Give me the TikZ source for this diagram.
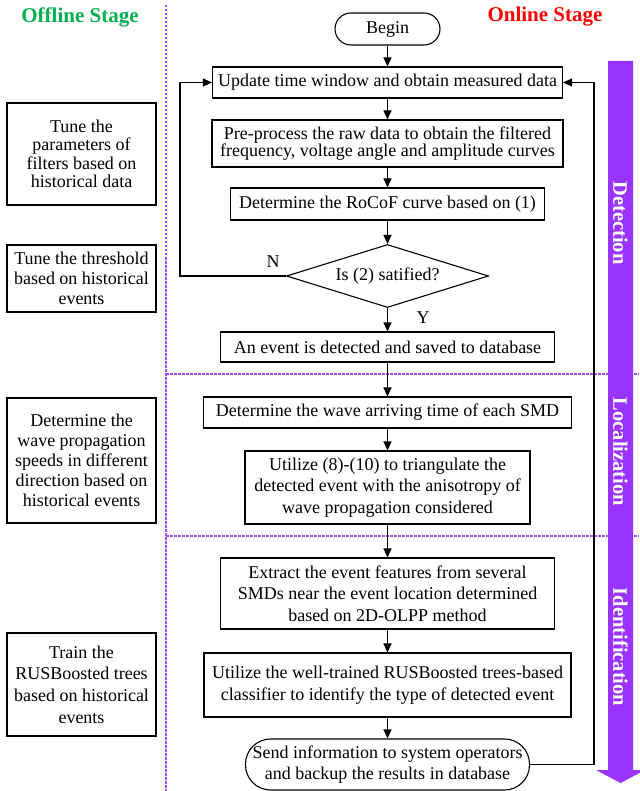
\documentclass[tikz,border=0pt]{standalone}
\usepackage{fontspec}
\setmainfont{Liberation Serif}
\usetikzlibrary{arrows.meta,shapes.geometric}
\definecolor{barpurple}{HTML}{9933FF}
\definecolor{dashpurple}{HTML}{A64DFF}
\definecolor{offgreen}{HTML}{00B050}
\definecolor{onred}{HTML}{FF0000}
\tikzset{
  every node/.style={font=\fontsize{18}{21.7}\selectfont},
  box/.style={draw=black, line width=1.1pt, rectangle, inner sep=0pt, align=center},
  term/.style={box, rounded corners=#1},
  decision/.style={draw=black, line width=1.1pt, diamond, aspect=3.2, inner sep=0pt, minimum width=202pt, minimum height=63pt},
  flow/.style={line width=1.1pt, -{Triangle[length=9pt,width=8pt]}},
  stagesep/.style={dashpurple, line width=1.2pt, dash pattern=on 2.5pt off 1.5pt},
  barlabel/.style={text=white, font=\fontsize{20.5}{24}\selectfont\bfseries, rotate=-90},
  stagetitle/.style={font=\fontsize{21}{25}\selectfont\bfseries}
}
\begin{document}
\begin{tikzpicture}[x=1pt,y=-1pt]
\useasboundingbox (0,0) rectangle (639,791);
\fill[white] (0,0) rectangle (639,791);

% separators
\draw[stagesep] (166,5) -- (166,791);
\draw[stagesep] (166,374) -- (639,374);
\draw[stagesep] (166,536) -- (639,536);

% titles
\node[stagetitle, text=offgreen] (offt) at (80,17) {Offline Stage};
\node[stagetitle, text=onred] (ont) at (545,17) {Online Stage};

% purple progress arrow
\fill[barpurple] (608,61) -- (633,61) -- (633,770) -- (645,770) -- (620.5,783) -- (596,770) -- (608,770) -- cycle;
\node[barlabel] (ldet) at (620.5,223) {Detection};
\node[barlabel] (lloc) at (620.5,452) {Localization};
\node[barlabel] (lid) at (620.5,647) {Identification};

% online flow
\node[term=16pt, minimum width=105pt, minimum height=32pt] (begin) at (387.5,29) {Begin};
\node[box, minimum width=350pt, minimum height=31pt] (b1) at (387.5,82.5) {Update time window and obtain measured data};
\node[box, minimum width=351pt, minimum height=47pt, font=\fontsize{18}{17}\selectfont] (b2) at (387.5,143.5) {Pre-process the raw data to obtain the filtered\\frequency, voltage angle and amplitude curves};
\node[box, minimum width=314pt, minimum height=32pt] (b3) at (387.5,204) {Determine the RoCoF curve based on (1)};
\node[decision] (dec) at (387.5,276) {Is (2) satified?};
\node[box, minimum width=334pt, minimum height=30pt] (b4) at (387.5,347) {An event is detected and saved to database};
\node[box, minimum width=368pt, minimum height=31pt] (b5) at (387.5,412.5) {Determine the wave arriving time of each SMD};
\node[box, minimum width=285pt, minimum height=73pt] (b6) at (387.5,487.5) {Utilize (8)-(10) to triangulate the\\detected event with the anisotropy of\\wave propagation considered};
\node[box, minimum width=334pt, minimum height=71pt] (b7) at (387.5,593.5) {Extract the event features from several\\SMDs near the event location determined\\based on 2D-OLPP method};
\node[box, minimum width=367pt, minimum height=64pt] (b8) at (387.5,685) {Utilize the well-trained RUSBoosted trees-based\\classifier to identify the type of detected event};
\node[term=25pt, minimum width=284pt, minimum height=51pt] (fin) at (387.5,764.5) {Send information to system operators\\and backup the results in database};

\node (nlab) at (273,262) {N};
\node (ylab) at (423,318) {Y};

\draw[flow] (begin) -- (b1);
\draw[flow] (b1) -- (b2);
\draw[flow] (b2) -- (b3);
\draw[flow] (b3) -- (dec);
\draw[flow] (dec) -- (b4);
\draw[flow] (b4) -- (b5);
\draw[flow] (b5) -- (b6);
\draw[flow] (b6) -- (b7);
\draw[flow] (b7) -- (b8);
\draw[flow] (b8) -- (fin);
\draw[flow] (dec.west) -- (180,276) |- (b1.west);
\draw[flow] (fin.east) -- (594,764.5) |- (b1.east);

% offline boxes
\node[box, minimum width=149pt, minimum height=102pt, font=\fontsize{18}{18.5}\selectfont] (oa) at (81.5,154) {Tune the\\parameters of\\filters based on\\historical data};
\node[box, minimum width=149pt, minimum height=67pt, font=\fontsize{18}{20}\selectfont] (ob) at (81.5,278.5) {Tune the threshold\\based on historical\\events};
\node[box, minimum width=149pt, minimum height=125pt, font=\fontsize{18}{20}\selectfont] (oc) at (81.5,460.5) {Determine the\\wave propagation\\speeds in different\\direction based on\\historical events};
\node[box, minimum width=149pt, minimum height=103pt] (od) at (81.5,684.5) {Train the\\RUSBoosted trees\\based on historical\\events};
\end{tikzpicture}
\end{document}
